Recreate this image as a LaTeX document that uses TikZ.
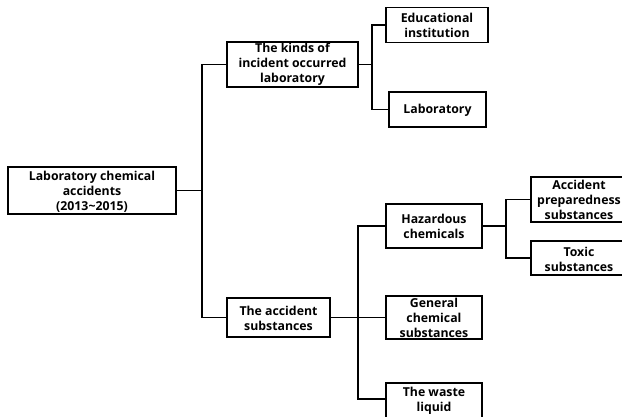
\documentclass[tikz,border=0pt]{standalone}
\usepackage{fontspec}
\setmainfont{Open Sans}
\begin{document}
\begin{tikzpicture}[x=1pt,y=-1pt,
  box/.style={draw=black,line width=1.1pt,minimum width=#1,inner sep=0pt},
  lbl/.style={align=center,inner sep=0pt,font=\bfseries\fontsize{12.3}{15}\selectfont},
  conn/.style={draw=black,line width=1.1pt}]
\useasboundingbox[fill=white] (0,0) rectangle (622,416);
% boxes
\node[box=168pt,minimum height=47pt] (root) at (92,190.5) {};
\node[box=131pt,minimum height=45pt] (kinds) at (292.5,64.5) {};
\node[box=102pt,minimum height=35pt] (edu) at (437,25) {};
\node[box=97pt,minimum height=35pt] (lab) at (437.5,109.5) {};
\node[box=103pt,minimum height=39pt] (acc) at (278.5,317.5) {};
\node[box=96pt,minimum height=44pt] (haz) at (434,226) {};
\node[box=96pt,minimum height=43pt] (gen) at (434,317.5) {};
\node[box=96pt,minimum height=44pt] (waste) at (434,405) {};
\node[box=96pt,minimum height=45pt] (prep) at (579,199.5) {};
\node[box=96pt,minimum height=34pt] (toxic) at (579,258) {};
% texts
\node[lbl] (rootT) at (92,191.5) {Laboratory chemical\\accidents\\(2013\textasciitilde2015)};
\node[lbl] (kindsT) at (292.5,64.5) {The kinds of\\incident occurred\\laboratory};
\node[lbl] (eduT) at (437,25) {Educational\\institution};
\node[lbl] (labT) at (437.5,110) {Laboratory};
\node[lbl] (accT) at (278.5,318) {The accident\\substances};
\node[lbl] (hazT) at (434,226.5) {Hazardous\\chemicals};
\node[lbl] (genT) at (434,318) {General\\chemical\\substances};
\node[lbl] (wasteT) at (434,400.5) {The waste\\liquid};
\node[lbl] (prepT) at (579,200) {Accident\\preparedness\\substances};
\node[lbl] (toxicT) at (579,259) {Toxic\\substances};
% junctions
\coordinate (j1) at (202,190.5);
\coordinate (j2) at (372,64.5);
\coordinate (j3) at (358,317.5);
\coordinate (j4) at (506,226);
% connectors
\draw[conn] (root.east) -- (j1);
\draw[conn] (kinds.west) -| (j1) |- (acc.west);
\draw[conn] (kinds.east) -- (j2);
\draw[conn] (edu.west) -| (j2) |- (lab.west);
\draw[conn] (acc.east) -- (gen.west);
\draw[conn] (haz.west) -| (j3) |- ([yshift=6pt]waste.west);
\draw[conn] (haz.east) -- (j4);
\draw[conn] (prep.west) -| (j4) |- (toxic.west);
\end{tikzpicture}
\end{document}
